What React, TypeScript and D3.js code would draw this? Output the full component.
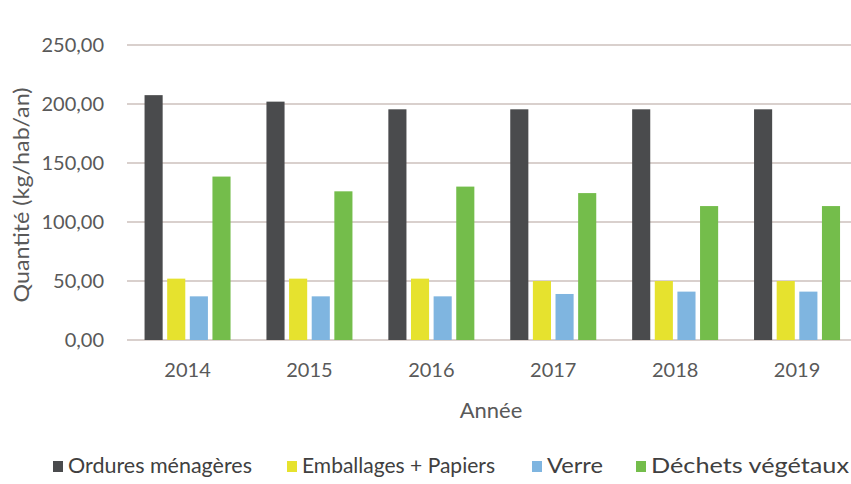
import React from "react";
import * as d3 from "d3";

const years = ["2014", "2015", "2016", "2017", "2018", "2019"];
const seriesNames = ["Ordures ménagères", "Emballages + Papiers", "Verre", "Déchets végétaux"];
const ordures = [207.5, 202, 195.5, 195.5, 195.5, 195.5];
const emballages = [52, 52, 52, 50, 50, 50];
const verre = [37, 37, 37, 39, 41, 41];
const dechets = [138.5, 126, 130, 124.5, 113.5, 113.5];
const seriesColors = ["#4a4b4d", "#e6e22e", "#7fb5e0", "#74bd4b"];
const yTicks = [0, 50, 100, 150, 200, 250];

const W = 851;
const H = 484;
const FONT = "Lato, 'Open Sans', sans-serif";

export default function App() {
  const values = [ordures, emballages, verre, dechets];
  const y = d3.scaleLinear().domain([0, 250]).range([340, 45]);
  const x0 = d3.scaleBand().domain(years).range([126.6, 858]).paddingInner(0).paddingOuter(0);
  const groupW = 86;
  const x1 = d3.scaleBand().domain(seriesNames).range([0, groupW]).paddingInner(0.2);
  const fmt = (v: number) => v.toFixed(2).replace(".", ",");

  const legendSquareX = [53, 287, 532, 636];
  const legendTextW = [184, 193, 56, 198];

  return (
    <svg width={W} height={H} style={{ position: "absolute", left: 0, top: 0, background: "#fff" }} fontFamily={FONT}>
      {yTicks.map((t) => (
        <g key={t}>
          <line x1={127} x2={851} y1={y(t)} y2={y(t)} stroke="#d9d0cd" strokeWidth={2} />
          <text x={104} y={y(t)} dy="0.35em" textAnchor="end" fontSize={20} fill="#595959">
            {fmt(t)}
          </text>
        </g>
      ))}
      {years.map((yr, i) => {
        const gx = (x0(yr) as number) + (x0.bandwidth() - groupW) / 2;
        return (
          <g key={yr}>
            {seriesNames.map((s, j) => {
              const v = values[j][i];
              return (
                <rect
                  key={s}
                  x={gx + (x1(s) as number)}
                  y={y(v)}
                  width={x1.bandwidth()}
                  height={y(0) - y(v)}
                  fill={seriesColors[j]}
                />
              );
            })}
            <text
              x={(x0(yr) as number) + x0.bandwidth() / 2}
              y={370}
              dy="0.35em"
              textAnchor="middle"
              fontSize={20}
              fill="#595959"
            >
              {yr}
            </text>
          </g>
        );
      })}
      <text
        transform={`translate(22,${195}) rotate(-90)`}
        textAnchor="middle"
        dy="0.35em"
        fontSize={21}
        fill="#595959"
        textLength={215}
        lengthAdjust="spacingAndGlyphs"
      >
        Quantité (kg/hab/an)
      </text>
      <text x={491} y={410} dy="0.35em" textAnchor="middle" fontSize={22} fill="#595959">
        Année
      </text>
      {seriesNames.map((s, j) => (
        <g key={s}>
          <rect x={legendSquareX[j]} y={461} width={10} height={11} fill={seriesColors[j]} />
          <text
            x={legendSquareX[j] + 15}
            y={466}
            dy="0.35em"
            fontSize={21}
            fill="#404040"
            textLength={legendTextW[j]}
            lengthAdjust="spacingAndGlyphs"
          >
            {s}
          </text>
        </g>
      ))}
    </svg>
  );
}
